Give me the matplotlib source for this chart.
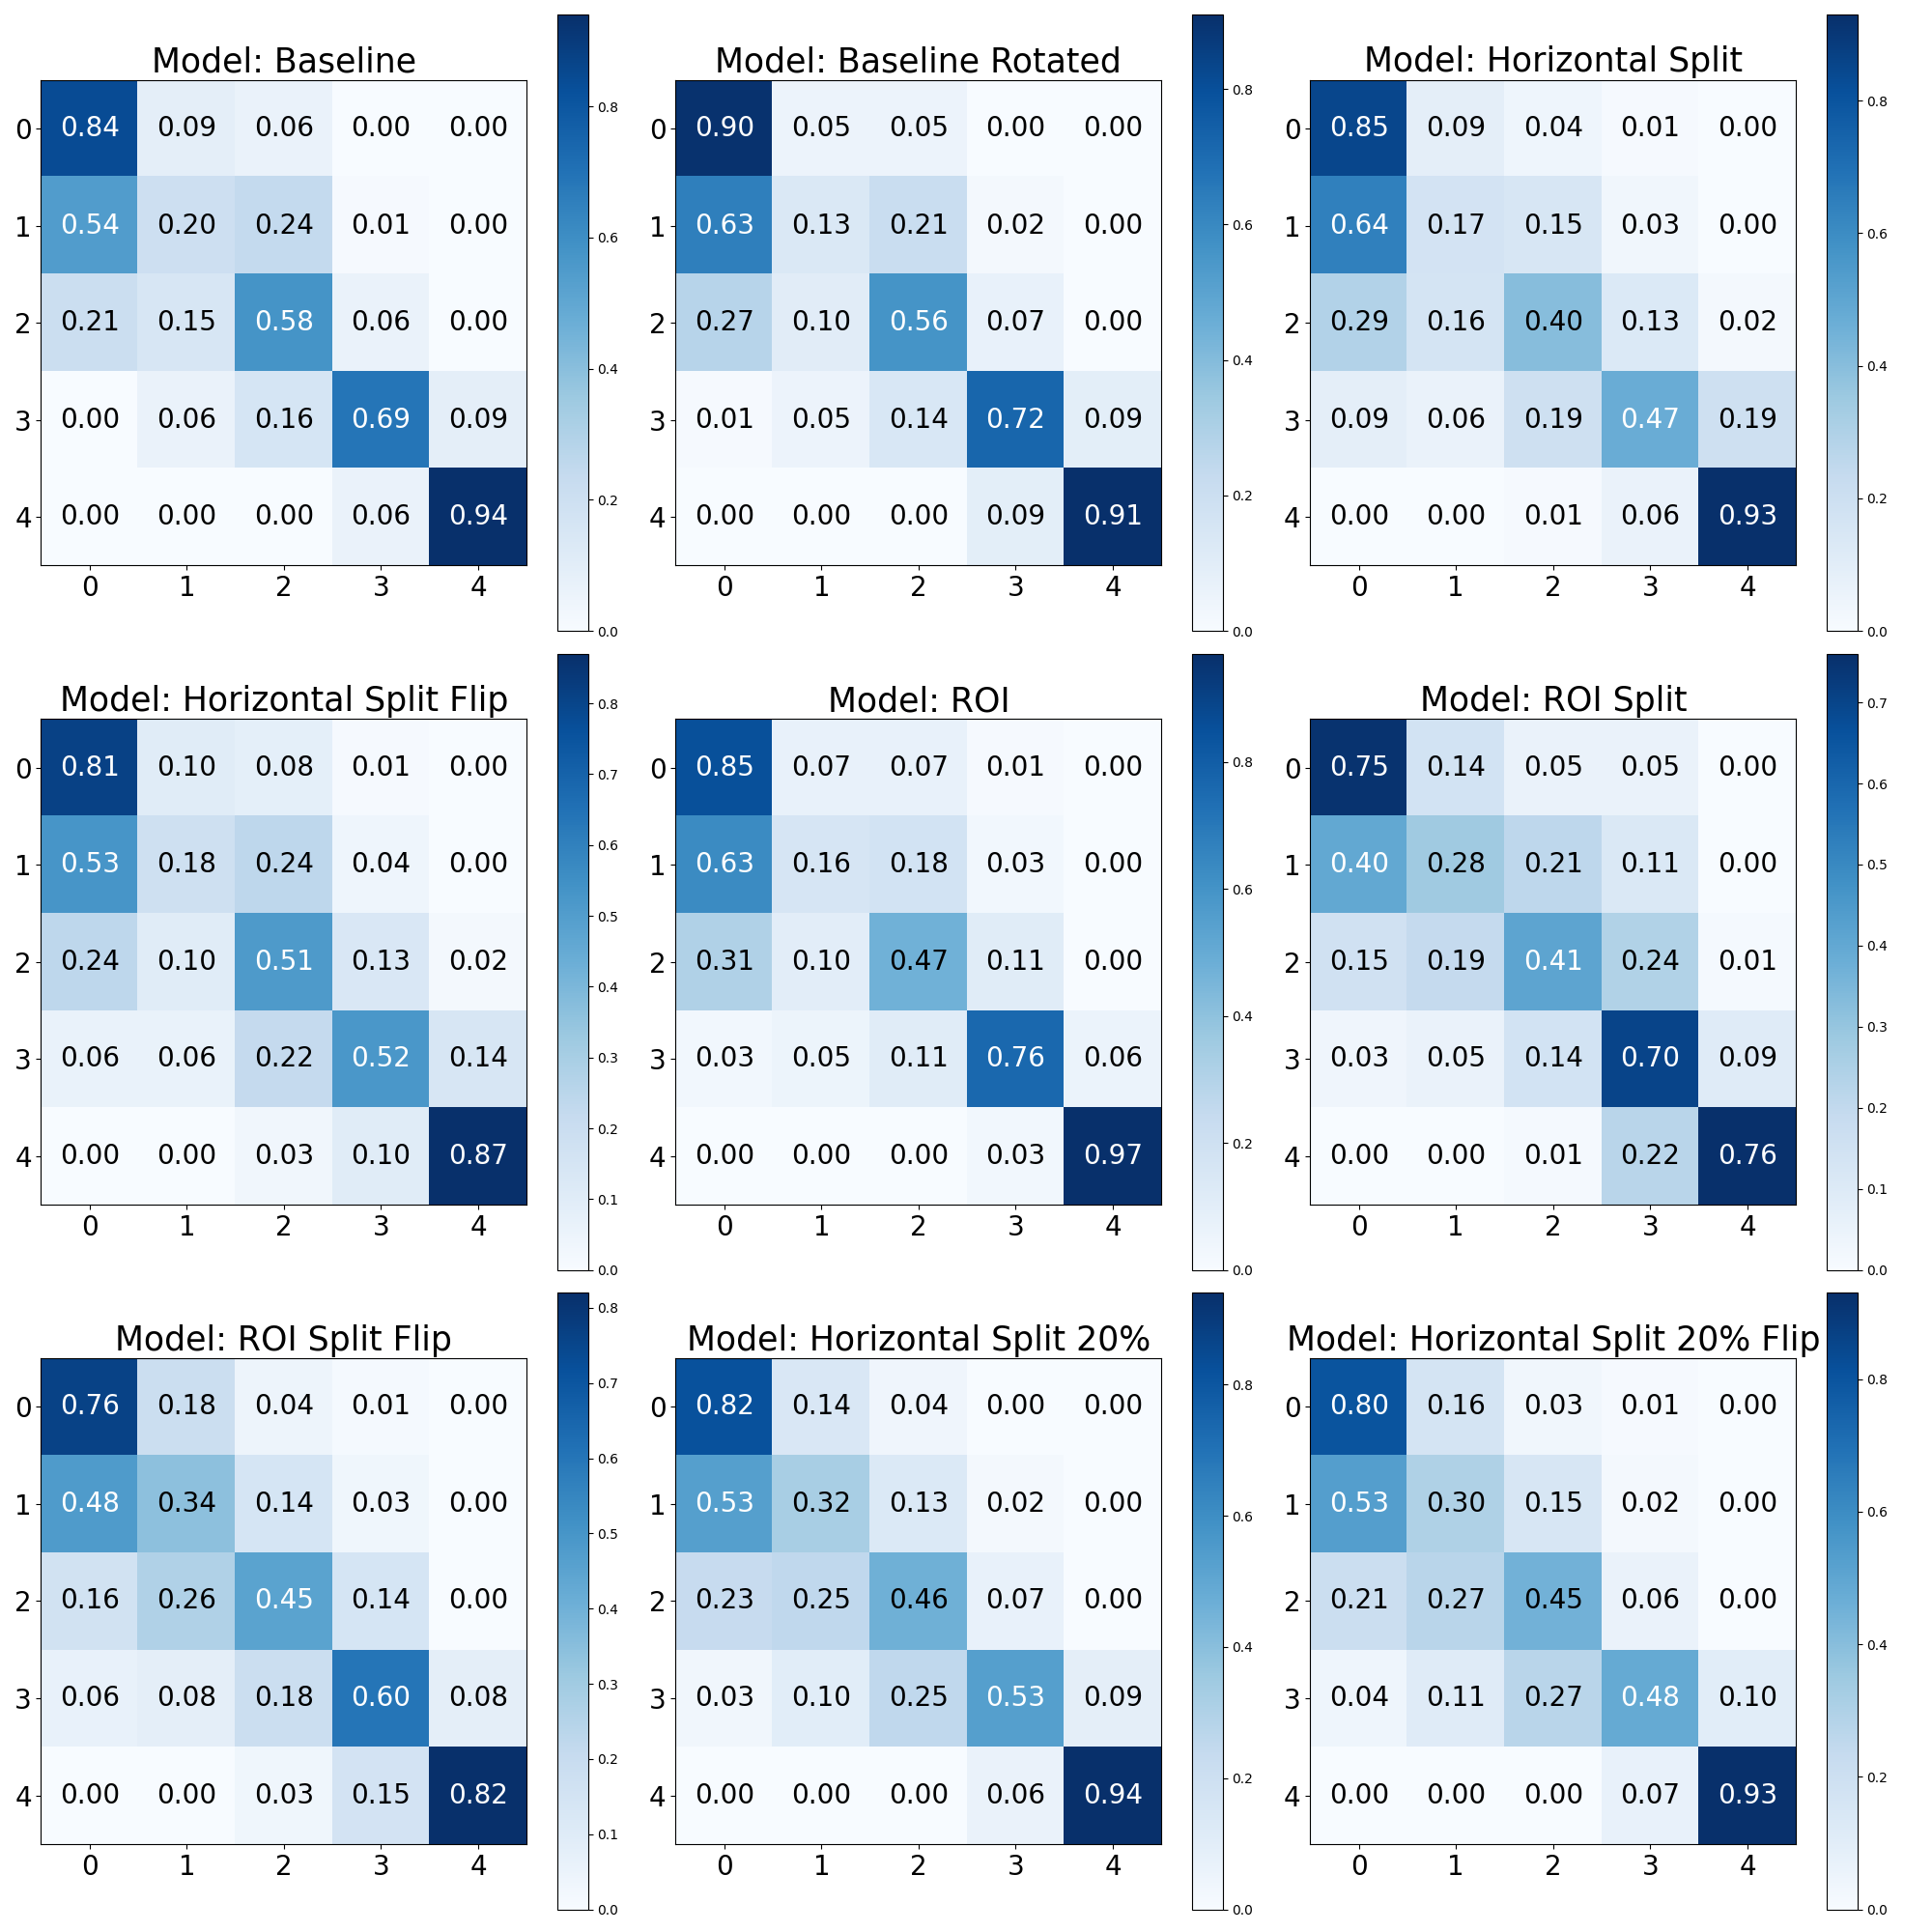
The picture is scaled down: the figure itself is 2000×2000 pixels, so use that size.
import numpy as np
import matplotlib.pyplot as plt

classes = [0, 1, 2, 3, 4]

model_names = ["Baseline", "Baseline Rotated", "Horizontal Split",
               "Horizontal Split Flip", "ROI", "ROI Split",
               "ROI Split Flip", "Horizontal Split 20%", "Horizontal Split 20% Flip"]

cm_baseline = [[0.84, 0.09, 0.06, 0.00, 0.00],
               [0.54, 0.20, 0.24, 0.01, 0.00],
               [0.21, 0.15, 0.58, 0.06, 0.00],
               [0.00, 0.06, 0.16, 0.69, 0.09],
               [0.00, 0.00, 0.00, 0.06, 0.94]]

cm_baseline_rot = [[0.90, 0.05, 0.05, 0.00, 0.00],
                   [0.63, 0.13, 0.21, 0.02, 0.00],
                   [0.27, 0.10, 0.56, 0.07, 0.00],
                   [0.01, 0.05, 0.14, 0.72, 0.09],
                   [0.00, 0.00, 0.00, 0.09, 0.91]]

cm_hsplit = [[0.85, 0.09, 0.04, 0.01, 0.00],
             [0.64, 0.17, 0.15, 0.03, 0.00],
             [0.29, 0.16, 0.40, 0.13, 0.02],
             [0.09, 0.06, 0.19, 0.47, 0.19],
             [0.00, 0.00, 0.01, 0.06, 0.93]]

cm_hsplit_flip = [[0.81, 0.10, 0.08, 0.01, 0.00],
                  [0.53, 0.18, 0.24, 0.04, 0.00],
                  [0.24, 0.10, 0.51, 0.13, 0.02],
                  [0.06, 0.06, 0.22, 0.52, 0.14],
                  [0.00, 0.00, 0.03, 0.10, 0.87]]

cm_roi = [[0.85, 0.07, 0.07, 0.01, 0.00],
          [0.63, 0.16, 0.18, 0.03, 0.00],
          [0.31, 0.10, 0.47, 0.11, 0.00],
          [0.03, 0.05, 0.11, 0.76, 0.06],
          [0.00, 0.00, 0.00, 0.03, 0.97]]

cm_roi_split = [[0.75, 0.14, 0.05, 0.05, 0.00],
                [0.40, 0.28, 0.21, 0.11, 0.00],
                [0.15, 0.19, 0.41, 0.24, 0.01],
                [0.03, 0.05, 0.14, 0.70, 0.09],
                [0.00, 0.00, 0.01, 0.22, 0.76]]

cm_roi_split_flip = [[0.76, 0.18, 0.04, 0.01, 0.00],
                     [0.48, 0.34, 0.14, 0.03, 0.00],
                     [0.16, 0.26, 0.45, 0.14, 0.00],
                     [0.06, 0.08, 0.18, 0.60, 0.08],
                     [0.00, 0.00, 0.03, 0.15, 0.82]]

cm_hsplit20 = [[0.82, 0.14, 0.04, 0.00, 0.00],
               [0.53, 0.32, 0.13, 0.02, 0.00],
               [0.23, 0.25, 0.46, 0.07, 0.00],
               [0.03, 0.10, 0.25, 0.53, 0.09],
               [0.00, 0.00, 0.00, 0.06, 0.94]]

cm_hsplit20_flip = [[0.80, 0.16, 0.03, 0.01, 0.00],
                    [0.53, 0.30, 0.15, 0.02, 0.00],
                    [0.21, 0.27, 0.45, 0.06, 0.00],
                    [0.04, 0.11, 0.27, 0.48, 0.10],
                    [0.00, 0.00, 0.00, 0.07, 0.93]]

matrices = [cm_baseline, cm_baseline_rot, cm_hsplit, cm_hsplit_flip, cm_roi,
            cm_roi_split, cm_roi_split_flip, cm_hsplit20, cm_hsplit20_flip]

fig, axes = plt.subplots(3, 3, figsize=(20, 20))

for ax, name, cm in zip(axes.flat, model_names, matrices):
    cm = np.array(cm)
    im = ax.imshow(cm, interpolation='nearest', cmap=plt.cm.Blues)
    ax.set_title(f"Model: {name}", fontsize=25)
    fig.colorbar(im, ax=ax)
    ax.set_xticks(np.arange(len(classes)))
    ax.set_yticks(np.arange(len(classes)))
    ax.set_xticklabels(classes, fontsize=20)
    ax.set_yticklabels(classes, fontsize=20)
    # white text on the dark cells
    thresh = cm.max() / 2.
    for i in range(cm.shape[0]):
        for j in range(cm.shape[1]):
            ax.text(j, i, f"{cm[i, j]:.2f}", ha="center", va="center", fontsize=20,
                    color="white" if cm[i, j] > thresh else "black")

plt.tight_layout()
plt.savefig("out.png", dpi=100)
